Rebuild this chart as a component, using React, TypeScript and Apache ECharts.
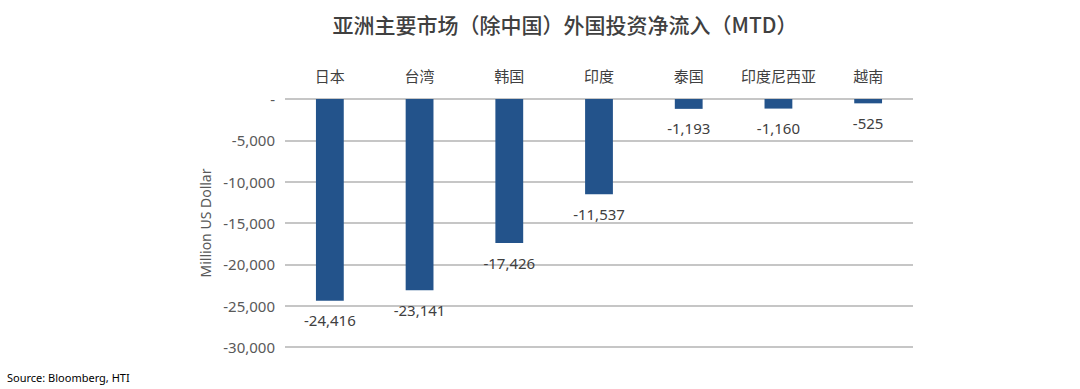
import React, { useEffect, useRef } from "react";
import * as echarts from "echarts";

const categories = ["日本", "台湾", "韩国", "印度", "泰国", "印度尼西亚", "越南"];
const values = [-24416, -23141, -17426, -11537, -1193, -1160, -525];

const fmt = (v: number) => (v === 0 ? "-" : v.toLocaleString("en-US"));

export default function App() {
  const ref = useRef<HTMLDivElement>(null);
  useEffect(() => {
    document.body.style.margin = "0";
    const chart = echarts.init(ref.current!, null, { renderer: "svg" });
    chart.setOption({
      animation: false,
      backgroundColor: "#ffffff",
      title: {
        text: "亚洲主要市场（除中国）外国投资净流入（MTD）",
        left: 560,
        textAlign: "center",
        top: 8,
        textStyle: {
          fontFamily: "Noto Sans CJK SC",
          fontSize: 21,
          fontWeight: 500,
          color: "#404040",
        },
      },
      graphic: [
        {
          type: "text",
          left: 7,
          top: 372,
          style: {
            text: "Source: Bloomberg, HTI",
            fontFamily: "Noto Sans",
            fontSize: 11,
            fill: "#000000",
          },
        },
      ],
      grid: { left: 285, right: 167, top: 99, bottom: 42 },
      xAxis: {
        type: "category",
        position: "top",
        data: categories,
        axisLine: { show: false },
        axisTick: { show: false },
        axisLabel: {
          interval: 0,
          margin: 16,
          fontFamily: "Noto Sans CJK SC",
          fontSize: 15,
          color: "#404040",
        },
      },
      yAxis: {
        type: "value",
        min: -30000,
        max: 0,
        interval: 5000,
        name: "Million US Dollar",
        nameLocation: "middle",
        nameGap: 68,
        nameTextStyle: {
          fontFamily: "Noto Sans",
          fontSize: 14,
          color: "#595959",
        },
        axisLine: { show: false },
        axisTick: { show: false },
        axisLabel: {
          formatter: fmt,
          margin: 10,
          fontFamily: "Noto Sans",
          fontSize: 15,
          color: "#595959",
        },
        splitLine: { lineStyle: { color: "#c6c6c6", width: 2 } },
      },
      series: [
        {
          type: "bar",
          data: values,
          barWidth: "31%",
          itemStyle: { color: "#23538b" },
          label: {
            show: true,
            position: "bottom",
            distance: 12,
            formatter: (p: any) => fmt(p.value),
            fontFamily: "Noto Sans",
            fontSize: 15,
            color: "#404040",
          },
        },
      ],
    });
    return () => chart.dispose();
  }, []);
  return <div ref={ref} style={{ width: 1080, height: 389 }} />;
}
